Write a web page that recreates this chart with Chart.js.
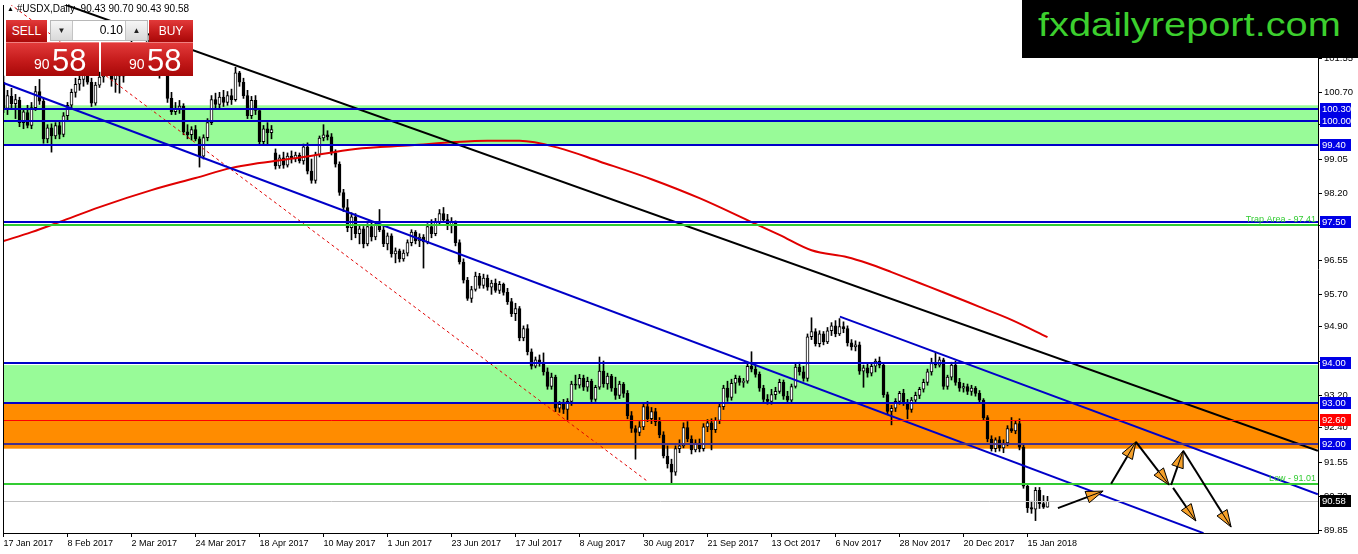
<!DOCTYPE html>
<html>
<head>
<meta charset="utf-8">
<title>#USDX Daily</title>
<script src="https://cdn.jsdelivr.net/npm/chart.js@4.4.1/dist/chart.umd.min.js"></script>
<style>
body{margin:0;background:#fff;overflow:hidden;font-family:'Liberation Sans',Arial,sans-serif}
#wrap{position:relative;width:1358px;height:554px}
#chart{position:absolute;left:0;top:0}
#hdr{position:absolute;left:7px;top:3px;font-size:10px;color:#000;white-space:pre}
#hdr .tri{font-size:7px;vertical-align:1px}
.box{position:absolute;color:#fff;text-align:center;box-sizing:border-box}
.red{background:linear-gradient(#e23a3a,#c41a1a 55%,#a80808)}
#sell{left:6px;top:20px;width:41px;height:22px;font-size:12px;line-height:22px}
#buy{left:149px;top:20px;width:44px;height:22px;font-size:12px;line-height:22px}
#spin{position:absolute;left:50px;top:20px;width:98px;height:21px;background:#fff;border:1px solid #b8b8b8;box-sizing:border-box}
#spin .dn,#spin .up{position:absolute;top:0;width:21px;height:19px;background:linear-gradient(#f6f6f6,#d9d9d9);font-size:8px;line-height:19px;text-align:center;color:#222}
#spin .dn{left:0;border-right:1px solid #c4c4c4}
#spin .up{right:0;border-left:1px solid #c4c4c4}
#spin .val{position:absolute;right:24px;top:0;font-size:12px;line-height:19px;color:#000}
.big{top:42px;height:34px;border-top:1px solid #f08080}
#bigL{left:6px;width:93px}
#bigR{left:101px;width:92px}
.big .s{position:absolute;bottom:4px;font-size:14px}
.big .b{position:absolute;bottom:0;font-size:31px;line-height:31px}
#bigL .s{left:28px}#bigL .b{left:46px}
#bigR .s{left:28px}#bigR .b{left:46px}
#logo{position:absolute;left:1022px;top:0;width:336px;height:58px;background:#000;overflow:hidden}
#logo span{position:absolute;left:16px;top:4px;font-size:34px;line-height:40px;color:#3ccf2e;transform:scaleX(1.17);transform-origin:left top}
</style>
</head>
<body>
<div id="wrap">
<canvas id="chart" width="1358" height="554"></canvas>
<div id="hdr"><span class="tri">&#9650;</span> #USDX,Daily  90.43 90.70 90.43 90.58</div>
<div id="sell" class="box red">SELL</div>
<div id="spin"><div class="dn">&#9660;</div><div class="val">0.10</div><div class="up">&#9650;</div></div>
<div id="buy" class="box red">BUY</div>
<div id="bigL" class="box red big"><span class="s">90</span><span class="b">58</span></div>
<div id="bigR" class="box red big"><span class="s">90</span><span class="b">58</span></div>
<div id="logo"><span>fxdailyreport.com</span></div>
</div>
<script>
// x axis: one slot per daily bar, a date label every 16 bars
const dateTicks = [0, 16, 32, 48, 64, 80, 96, 112, 128, 144, 160, 176, 192, 208, 224, 240, 256];
const dateLabels = ['17 Jan 2017', '8 Feb 2017', '2 Mar 2017', '24 Mar 2017', '18 Apr 2017', '10 May 2017',
  '1 Jun 2017', '23 Jun 2017', '17 Jul 2017', '8 Aug 2017', '30 Aug 2017', '21 Sep 2017', '13 Oct 2017',
  '6 Nov 2017', '28 Nov 2017', '20 Dec 2017', '15 Jan 2018'];
const priceTicks = [101.55, 100.70, 99.90, 99.05, 98.20, 97.40, 96.55, 95.70, 94.90, 94.05, 93.20, 92.40, 91.55, 90.70, 89.85];

// daily candles, 17 Jan 2017 .. 22 Jan 2018
const opens = [
  100.95,100.30,100.60,100.42,100.50,99.95,100.20,99.88,100.32,100.72,
  100.48,99.55,99.82,99.62,99.88,99.66,100.12,100.38,100.70,100.90,
  101.02,101.18,100.95,100.43,100.88,101.08,101.50,101.35,101.02,101.25,
  101.10,101.48,101.75,101.82,101.35,101.30,101.78,101.98,101.88,101.30,
  101.28,101.65,100.55,100.22,100.30,100.36,99.72,99.65,99.78,99.55,
  99.12,99.58,99.95,100.52,100.40,100.58,100.45,100.62,100.52,101.18,
  100.95,100.62,100.12,100.50,100.25,99.48,99.80,99.70,99.20,98.88,
  99.08,98.90,99.12,99.05,99.15,99.00,99.35,98.75,98.52,99.15,
  99.57,99.65,99.60,99.20,98.92,98.22,97.85,97.35,97.62,97.20,
  97.32,96.95,97.38,97.12,97.42,97.30,96.95,97.15,96.70,96.78,
  96.58,96.72,96.98,97.24,97.02,97.12,97.00,97.38,97.20,97.50,
  97.70,97.55,97.40,97.48,96.98,96.50,96.05,95.60,95.82,96.15,
  95.92,96.10,95.88,95.98,95.80,95.95,95.75,95.52,95.22,95.35,
  94.62,94.85,94.28,93.92,94.08,93.98,93.78,93.42,93.65,92.88,
  92.98,92.85,93.05,93.48,93.45,93.62,93.40,93.55,93.10,93.40,
  93.80,93.48,93.68,93.38,93.20,93.48,93.25,92.70,92.38,92.28,
  92.42,92.92,92.62,92.80,92.55,92.22,91.70,91.50,91.30,91.88,
  91.95,92.40,92.12,91.85,92.02,91.88,92.42,92.52,92.35,92.58,
  92.92,93.38,93.15,93.50,93.62,93.52,93.55,93.92,93.85,93.72,
  93.38,93.10,93.05,93.22,93.30,93.52,93.18,93.08,93.42,93.90,
  93.78,93.62,94.65,94.78,94.48,94.72,94.52,94.80,94.92,94.72,
  94.90,94.85,94.50,94.40,94.45,93.80,93.88,93.75,93.92,94.05,
  93.95,93.22,92.80,92.88,93.05,93.25,93.02,92.85,93.08,93.20,
  93.35,93.52,93.78,94.02,93.95,94.08,93.42,93.65,93.95,93.52,
  93.38,93.42,93.30,93.38,93.25,93.08,92.65,92.12,91.88,92.10,
  91.90,92.02,92.38,92.32,92.50,91.92,90.95,90.42,90.38,90.85,90.52,90.43
];
const highs = [
  101.10,100.75,100.80,100.65,100.58,100.30,100.38,100.45,100.85,101.02,
  100.55,99.90,99.92,99.95,99.98,100.20,100.45,100.78,101.05,101.10,
  101.35,101.40,101.05,100.95,101.20,101.62,101.70,101.45,101.40,101.45,
  101.55,101.85,102.25,101.90,101.60,101.85,102.10,102.05,101.95,101.45,
  101.75,101.72,100.70,100.45,100.50,100.42,99.90,99.85,99.88,99.60,
  99.65,100.05,100.62,100.68,100.70,100.75,100.72,100.78,101.32,101.22,
  101.05,100.75,100.60,100.62,100.30,99.88,99.95,99.88,99.30,99.15,
  99.22,99.20,99.25,99.22,99.20,99.42,99.45,99.05,99.22,99.62,
  99.90,99.75,99.68,99.28,98.98,98.30,98.05,97.72,97.70,97.42,
  97.38,97.45,97.50,97.50,97.80,97.38,97.22,97.20,96.85,96.82,
  96.80,97.05,97.30,97.28,97.20,97.18,97.45,97.55,97.58,97.80,
  97.85,97.68,97.60,97.52,97.05,96.58,96.12,95.90,96.25,96.22,
  96.20,96.18,96.05,96.08,96.02,95.98,95.85,95.60,95.48,95.40,
  94.92,94.95,94.35,94.15,94.20,94.25,93.88,93.75,93.70,93.05,
  93.10,93.12,93.55,93.70,93.72,93.70,93.65,93.60,93.45,94.15,
  94.05,93.75,93.72,93.65,93.55,93.52,93.32,92.80,92.45,92.55,
  93.00,93.05,92.90,92.88,92.65,92.30,91.95,91.62,91.95,92.10,
  92.52,92.55,92.20,92.10,92.12,92.50,92.60,92.62,92.65,93.00,
  93.45,93.55,93.60,93.70,93.68,93.62,94.00,94.28,93.95,93.78,
  93.45,93.22,93.35,93.40,93.60,93.58,93.30,93.48,93.98,94.02,
  93.92,94.72,95.12,94.85,94.80,94.78,94.88,95.00,95.05,95.10,
  95.02,94.92,94.58,94.55,94.52,93.95,93.98,93.98,94.10,94.15,
  94.00,93.28,92.95,93.12,93.30,93.35,93.10,93.15,93.28,93.40,
  93.60,93.85,94.12,94.25,94.15,94.12,93.70,94.02,94.05,93.62,
  93.50,93.48,93.45,93.42,93.32,93.12,92.70,92.20,92.15,92.18,
  92.10,92.45,92.65,92.58,92.62,92.00,91.02,90.58,90.92,90.92,90.72,90.70
];
const lows = [
  100.20,100.15,100.30,100.05,99.85,99.80,99.82,99.80,100.25,100.40,
  99.44,99.45,99.22,99.55,99.55,99.60,100.00,100.30,100.58,100.75,
  100.85,100.90,100.35,100.38,100.82,100.95,101.20,100.85,100.70,100.68,
  100.95,101.30,101.60,101.25,101.20,101.25,101.65,101.75,101.15,101.05,
  101.20,100.45,100.15,100.15,100.18,99.65,99.55,99.52,99.50,98.85,
  99.05,99.50,99.90,100.30,100.32,100.35,100.38,100.40,100.48,100.85,
  100.55,100.05,100.05,100.15,99.42,99.40,99.40,99.55,98.80,98.82,
  98.82,98.85,98.95,98.98,98.95,98.92,98.68,98.45,98.45,99.10,
  99.50,99.52,99.15,98.85,98.15,97.75,97.25,97.05,97.10,96.95,
  96.85,96.90,97.02,97.05,97.25,96.88,96.80,96.62,96.48,96.50,
  96.52,96.65,96.90,96.95,96.88,96.35,96.95,97.10,97.15,97.45,
  97.48,97.30,97.22,96.90,96.45,95.98,95.55,95.50,95.78,95.85,
  95.85,95.80,95.70,95.75,95.72,95.68,95.45,95.15,95.05,94.55,
  94.55,94.20,93.85,93.88,93.92,93.70,93.35,93.35,92.80,92.78,
  92.75,92.60,92.95,93.35,93.38,93.32,93.30,93.00,93.05,93.35,
  93.40,93.35,93.30,93.10,93.12,93.15,92.62,92.28,91.62,92.20,
  92.35,92.55,92.50,92.45,92.15,91.65,91.40,91.02,91.22,91.78,
  91.90,92.05,91.75,91.80,91.80,91.82,92.30,91.85,92.28,92.50,
  92.85,93.05,93.08,93.25,93.45,93.40,93.50,93.78,93.65,93.30,
  93.02,92.98,92.98,93.10,93.25,93.10,93.02,93.02,93.38,93.70,
  93.55,93.55,94.58,94.42,94.40,94.45,94.48,94.68,94.65,94.68,
  94.75,94.42,94.32,94.30,93.72,93.40,93.65,93.68,93.78,93.88,
  93.15,92.72,92.47,92.80,92.98,92.95,92.62,92.78,93.00,93.12,
  93.28,93.45,93.70,93.88,93.90,93.35,93.35,93.58,93.45,93.30,
  93.28,93.22,93.20,93.18,93.02,92.60,92.05,91.82,91.80,91.82,
  91.78,91.95,92.28,92.25,91.85,90.90,90.30,90.28,90.10,90.40,90.40,90.43
];
const closes = [
  100.28,100.62,100.42,100.52,99.95,100.22,99.88,100.32,100.72,100.48,
  99.55,99.82,99.62,99.88,99.66,100.12,100.38,100.70,100.90,101.02,
  101.18,100.95,100.43,100.88,101.08,101.50,101.35,101.02,101.25,101.10,
  101.48,101.75,101.82,101.35,101.30,101.78,101.98,101.88,101.30,101.28,
  101.65,100.55,100.22,100.30,100.36,99.72,99.65,99.78,99.55,99.12,
  99.58,99.95,100.52,100.40,100.58,100.45,100.62,100.52,101.18,100.95,
  100.62,100.12,100.50,100.25,99.48,99.80,99.70,99.78,98.88,99.08,
  98.90,99.12,99.05,99.15,99.00,99.35,98.75,98.52,99.15,99.57,
  99.65,99.60,99.20,98.92,98.22,97.85,97.35,97.62,97.20,97.32,
  96.95,97.38,97.12,97.42,97.30,96.95,97.15,96.70,96.78,96.58,
  96.72,96.98,97.24,97.02,97.12,97.00,97.38,97.20,97.50,97.70,
  97.55,97.40,97.48,96.98,96.50,96.05,95.60,95.82,96.15,95.92,
  96.10,95.88,95.98,95.80,95.95,95.75,95.52,95.22,95.35,94.62,
  94.85,94.28,93.92,94.08,93.98,93.78,93.42,93.65,92.88,92.98,
  92.85,93.05,93.48,93.45,93.62,93.40,93.55,93.10,93.40,93.80,
  93.48,93.68,93.38,93.20,93.48,93.25,92.70,92.38,92.28,92.42,
  92.92,92.62,92.80,92.55,92.22,91.70,91.50,91.30,91.88,91.95,
  92.40,92.12,91.85,92.02,91.88,92.42,92.52,92.35,92.58,92.92,
  93.38,93.15,93.50,93.62,93.52,93.55,93.92,93.85,93.72,93.38,
  93.10,93.05,93.22,93.30,93.52,93.18,93.08,93.42,93.90,93.78,
  93.62,94.65,94.78,94.48,94.72,94.52,94.80,94.92,94.72,94.90,
  94.85,94.50,94.40,94.45,93.80,93.88,93.75,93.92,94.05,93.95,
  93.22,92.80,92.88,93.05,93.25,93.02,92.85,93.08,93.20,93.35,
  93.52,93.78,94.02,93.95,94.08,93.42,93.65,93.95,93.52,93.38,
  93.42,93.30,93.38,93.25,93.08,92.65,92.12,91.88,92.10,91.90,
  92.02,92.38,92.32,92.50,91.92,90.95,90.42,90.38,90.85,90.52,90.43,90.58
];

// moving average, read at a few bars
const maBars = [0, 7, 14, 24, 37, 48, 57, 64, 75, 88, 102, 113, 121, 129, 139, 149, 162, 174, 187, 194, 202, 211, 216, 222, 229, 236, 244, 252, 261];
const maValues = [97.02, 97.24, 97.49, 97.86, 98.28, 98.58, 98.83, 98.95, 99.10, 99.30, 99.39, 99.47, 99.50, 99.50,
  99.32, 98.99, 98.55, 98.08, 97.49, 97.17, 96.79, 96.62, 96.47, 96.25, 95.98, 95.71, 95.39, 95.07, 94.64];

// trend lines: [bar, price] at both ends
const blackTrend = [[10, 103.06], [328.6, 91.83]];
const channelLow = [[0, 100.93], [300, 89.79]];
const channelHigh = [[209.1, 95.15], [328.6, 90.75]];
const redDashed = [[1.6, 102.89], [160.9, 91.08]];

// zones and levels
const zoneHigh = [100.38, 93.95, 93.00];
const zoneLow = [99.40, 93.00, 91.88];
const blueLevels = [100.30, 100.00, 99.40, 97.50, 94.00, 93.00];
const purpleLevel = 92.00;
const redLevel = 92.60;
const trapLevel = 97.41;
const lowLevel = 91.01;
const bidPrice = 90.58;

// projection arrows
const arrowFromBar = [263.6, 276.9, 283.1, 291.9, 292.4, 294.9];
const arrowFromPrice = [90.41, 91.01, 92.05, 90.98, 90.91, 91.83];
const arrowToBar = [274.9, 283.1, 291.4, 294.9, 298.1, 306.9];
const arrowToPrice = [90.83, 92.05, 90.98, 91.83, 90.09, 89.94];

const bars = opens.map((o, i) => i);
const FONT = "'Liberation Sans', Arial, sans-serif";
const BLUE = '#0000c8';
const GREEN = '#33cc33';

const toPoints = arr => arr.map(p => ({ x: p[0], y: p[1] }));

const overlay = {
  id: 'overlay',
  beforeDatasetsDraw(chart) {
    const { ctx, chartArea: a, scales: { y } } = chart;
    const colors = ['#98fb98', '#98fb98', '#ff8c00'];
    ctx.save();
    zoneHigh.forEach((hi, k) => {
      const t = y.getPixelForValue(hi);
      const b = y.getPixelForValue(zoneLow[k]);
      ctx.fillStyle = colors[k];
      ctx.fillRect(a.left, t, a.right - a.left, b - t);
    });
    ctx.restore();
  },
  afterDatasetsDraw(chart) {
    const { ctx, chartArea: a, scales: { x, y } } = chart;
    const hline = (v, color, w) => {
      const yy = Math.round(y.getPixelForValue(v)) + (w % 2 ? 0.5 : 0);
      ctx.strokeStyle = color;
      ctx.lineWidth = w;
      ctx.beginPath();
      ctx.moveTo(a.left, yy);
      ctx.lineTo(a.right, yy);
      ctx.stroke();
    };
    ctx.save();
    hline(bidPrice, '#c0c0c0', 1);
    hline(redLevel, '#ff0000', 1);
    hline(trapLevel, GREEN, 2);
    hline(lowLevel, GREEN, 2);
    blueLevels.forEach(v => hline(v, BLUE, 2));
    hline(purpleLevel, '#45308a', 2);

    ctx.font = '9px ' + FONT;
    ctx.fillStyle = GREEN;
    ctx.textAlign = 'right';
    ctx.textBaseline = 'bottom';
    ctx.fillText('Trap Area - ' + trapLevel.toFixed(2), a.right - 2, y.getPixelForValue(trapLevel) - 1);
    ctx.fillText('Low - ' + lowLevel.toFixed(2), a.right - 2, y.getPixelForValue(lowLevel) - 1);

    // arrows
    ctx.beginPath();
    ctx.rect(a.left, a.top, a.right - a.left, a.bottom - a.top);
    ctx.clip();
    arrowFromBar.forEach((b0, k) => {
      const x0 = x.getPixelForValue(b0), y0 = y.getPixelForValue(arrowFromPrice[k]);
      const x1 = x.getPixelForValue(arrowToBar[k]), y1 = y.getPixelForValue(arrowToPrice[k]);
      const ang = Math.atan2(y1 - y0, x1 - x0);
      const L = 17, W = 6;
      const bx = x1 - L * Math.cos(ang), by = y1 - L * Math.sin(ang);
      ctx.strokeStyle = '#000';
      ctx.lineWidth = 2;
      ctx.beginPath();
      ctx.moveTo(x0, y0);
      ctx.lineTo(bx, by);
      ctx.stroke();
      ctx.beginPath();
      ctx.moveTo(x1, y1);
      ctx.lineTo(bx + W * Math.sin(ang), by - W * Math.cos(ang));
      ctx.lineTo(bx - W * Math.sin(ang), by + W * Math.cos(ang));
      ctx.closePath();
      ctx.fillStyle = '#f5a02a';
      ctx.fill();
      ctx.lineWidth = 1;
      ctx.stroke();
      ctx.beginPath();
      ctx.moveTo(bx, by);
      ctx.lineTo(x1, y1);
      ctx.stroke();
    });
    ctx.restore();
  },
  afterDraw(chart) {
    const { ctx, chartArea: a, scales: { y } } = chart;
    const tag = (v, bg) => {
      const yy = Math.round(y.getPixelForValue(v));
      ctx.fillStyle = bg;
      ctx.fillRect(a.right + 2, yy - 6, 31, 12);
      ctx.fillStyle = '#fff';
      ctx.fillText(v.toFixed(2), a.right + 4, yy + 0.5);
    };
    ctx.save();
    ctx.font = '9.5px ' + FONT;
    ctx.textAlign = 'left';
    ctx.textBaseline = 'middle';
    blueLevels.forEach(v => tag(v, '#0000e6'));
    tag(purpleLevel, '#0000e6');
    tag(redLevel, '#ff0000');
    tag(bidPrice, '#000');
    // left frame line
    ctx.strokeStyle = '#000';
    ctx.lineWidth = 1;
    ctx.beginPath();
    ctx.moveTo(a.left + 0.5, a.top);
    ctx.lineTo(a.left + 0.5, a.bottom);
    ctx.stroke();
    ctx.restore();
  }
};

new Chart(document.getElementById('chart'), {
  type: 'bar',
  data: {
    datasets: [
      { type: 'line', data: toPoints(blackTrend), borderColor: '#000', borderWidth: 2, pointRadius: 0, order: 0 },
      { type: 'line', data: toPoints(channelLow), borderColor: BLUE, borderWidth: 2, pointRadius: 0, order: 0 },
      { type: 'line', data: toPoints(channelHigh), borderColor: BLUE, borderWidth: 2, pointRadius: 0, order: 0 },
      { type: 'line', data: toPoints(redDashed), borderColor: '#e00000', borderWidth: 1, borderDash: [3, 3], pointRadius: 0, order: 0 },
      { type: 'line', data: maBars.map((b, i) => ({ x: b, y: maValues[i] })), borderColor: '#e00000', borderWidth: 2,
        pointRadius: 0, tension: 0.4, cubicInterpolationMode: 'monotone', order: 0 },
      { label: 'body', data: bars.map(i => ({ x: i, y: [opens[i], closes[i]] })),
        backgroundColor: bars.map(i => closes[i] >= opens[i] ? '#fff' : '#000'),
        borderColor: '#000', borderWidth: 1, borderSkipped: false, barThickness: 3, grouped: false, order: 1 },
      { label: 'wick', data: bars.map(i => ({ x: i, y: [lows[i], highs[i]] })),
        backgroundColor: '#000', borderWidth: 0, barThickness: 1, grouped: false, order: 2 }
    ]
  },
  options: {
    responsive: false,
    animation: false,
    devicePixelRatio: 1,
    layout: { padding: { left: 3, top: 5, right: 0, bottom: 0 } },
    plugins: { legend: { display: false }, tooltip: { enabled: false } },
    scales: {
      x: {
        type: 'linear', min: -0.125, max: 328.625, offset: false,
        grid: { drawOnChartArea: false, offset: false, tickLength: 4, color: '#000' },
        border: { color: '#000' },
        afterBuildTicks: s => { s.ticks = dateTicks.map(v => ({ value: v })); },
        afterFit: s => { s.height = 21; s.paddingLeft = 0; s.paddingRight = 0; },
        ticks: {
          autoSkip: false, maxRotation: 0, align: 'start', padding: 1, color: '#000',
          font: { family: FONT, size: 9 },
          callback: v => dateLabels[dateTicks.indexOf(v)]
        }
      },
      y: {
        position: 'right', min: 89.793, max: 102.862,
        grid: { drawOnChartArea: false, tickLength: 4, color: '#000' },
        border: { color: '#000' },
        afterBuildTicks: s => { s.ticks = priceTicks.map(v => ({ value: v })); },
        afterFit: s => { s.width = 40; s.paddingTop = 0; s.paddingBottom = 0; },
        ticks: {
          padding: 2, color: '#000', font: { family: FONT, size: 9.5 },
          callback: v => v.toFixed(2)
        }
      }
    }
  },
  plugins: [overlay]
});
</script>
</body>
</html>
